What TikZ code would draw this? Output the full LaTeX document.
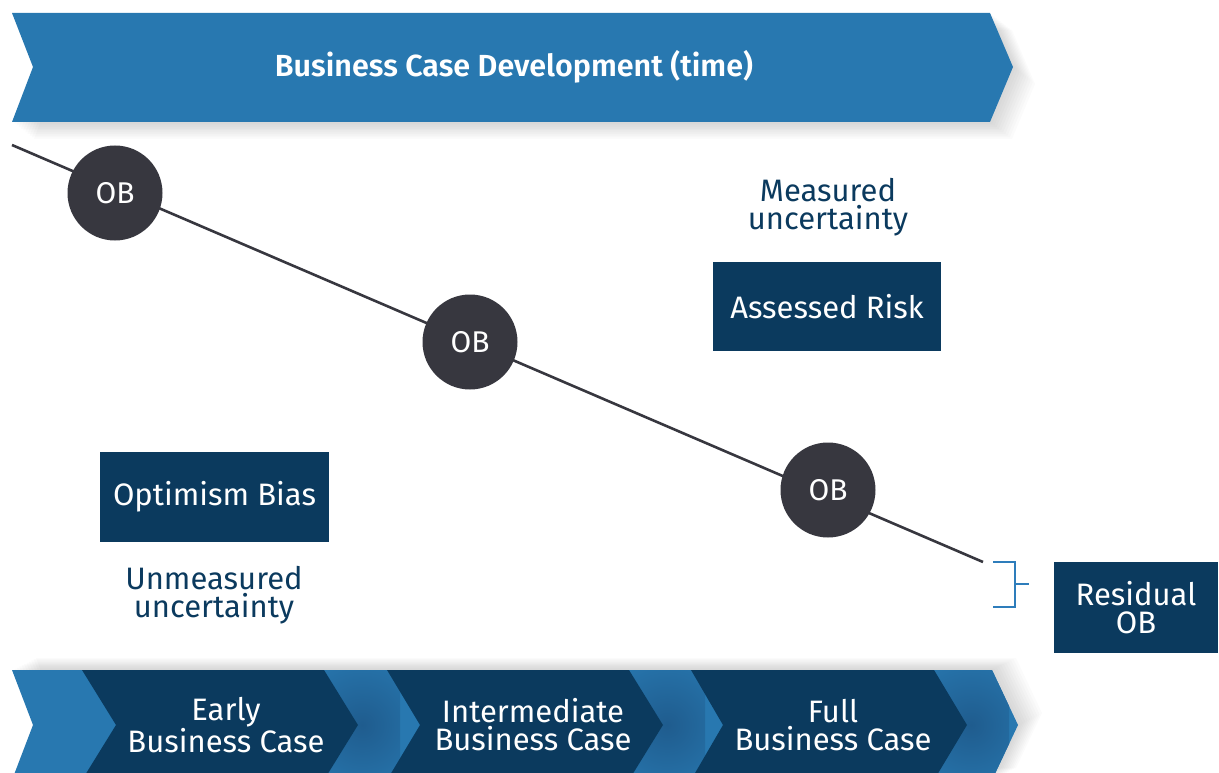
\documentclass[tikz,border=0pt]{standalone}
\usepackage{fontspec}
\setmainfont{Fira Sans}
\IfFontExistsTF{Fira Sans SemiBold}{\newfontfamily\titlefont{Fira Sans SemiBold}}{\newcommand\titlefont{\bfseries}}
\definecolor{lblue}{HTML}{2878B0}
\definecolor{navy}{HTML}{0B3A5E}
\definecolor{circ}{HTML}{37373F}
\definecolor{brk}{HTML}{2E7DBB}
\definecolor{dblue}{HTML}{1F5C8E}
\begin{document}
\begin{tikzpicture}[x=1pt,y=-1pt,
  maintxt/.style={font=\fontsize{31}{28}\selectfont},
  titletxt/.style={text=white,font=\titlefont\fontsize{30.5}{28}\selectfont},
  chtxt/.style={text=white,align=center,maintxt},
  obc/.style={circle,fill=circ,minimum size=95pt,inner sep=0pt,text=white,font=\fontsize{30}{28}\selectfont},
  navybox/.style={fill=navy,text=white,inner sep=0pt,align=center,maintxt},
  lbl/.style={text=navy,align=center,maintxt},
  obline/.style={draw=circ,line width=2.6pt},
  bracket/.style={draw=brk,line width=2.8pt},
  shadowfill/.style={fill=black,opacity=0.014}]
\useasboundingbox (0,0) rectangle (1219,773);
% top banner shadow
\foreach \k in {1,...,10}{
  \fill[shadowfill,shift={(\k*2.2,\k*1.7)}] (12,13) -- (990,13) -- (1013,67) -- (990,122) -- (12,122) -- (33,67) -- cycle;
}
\fill[lblue] (12,13) -- (990,13) -- (1013,67) -- (990,122) -- (12,122) -- (33,67) -- cycle;
\node[titletxt] (title) at (514,67) {Business Case Development (time)};
% bottom arrow shadow
\foreach \k in {1,...,10}{
  \fill[shadowfill,shift={(\k*2.4,-\k*1.2)}] (12,670) -- (992,670) -- (1018,725) -- (992,780) -- (12,780) -- (33,725) -- cycle;
}
\fill[lblue] (12,670) -- (992,670) -- (1018,725) -- (992,780) -- (12,780) -- (33,725) -- cycle;
% soft shading right of chevron tips
\begin{scope}
  \clip (12,670) -- (992,670) -- (1018,725) -- (992,780) -- (12,780) -- (33,725) -- cycle;
  \foreach \a in {0,305,609}{
    \begin{scope}[shift={(\a,0)}]
      \clip (324,670) -- (358,725) -- (324,780) -- (400,780) -- (400,670) -- cycle;
      \shade[inner color=dblue,outer color=lblue] (362,725) circle[radius=80];
    \end{scope}
  }
\end{scope}
% dark chevrons
\fill[navy] (82,670) -- (324,670) -- (358,725) -- (324,780) -- (82,780) -- (116,725) -- cycle;
\fill[navy] (387,670) -- (629,670) -- (663,725) -- (629,780) -- (387,780) -- (420,725) -- cycle;
\fill[navy] (691,670) -- (934,670) -- (967,725) -- (934,780) -- (691,780) -- (723,725) -- cycle;
\node[chtxt] (c1) at (226,725) {Early\\Business Case};
\node[chtxt] (c2) at (533,725) {Intermediate\\Business Case};
\node[chtxt] (c3) at (833,725) {Full\\Business Case};
% OB line
\coordinate (ls) at (12,145);
\coordinate (le) at (983,562);
\draw[obline] (ls) -- (le);
\node[obc] (ob1) at (115,193) {OB};
\node[obc] (ob2) at (470,342) {OB};
\node[obc] (ob3) at (828,490) {OB};
% boxes
\node[navybox,minimum width=228pt,minimum height=89pt] (ar) at (827,306.5) {Assessed Risk};
\node[navybox,minimum width=229pt,minimum height=90pt] (opb) at (214.5,497) {Optimism Bias};
\node[navybox,minimum width=164pt,minimum height=91pt] (res) at (1136,607.5) {Residual\\OB};
\node[lbl] (mu) at (828,207) {Measured\\uncertainty};
\node[lbl] (uu) at (214,595) {Unmeasured\\uncertainty};
% bracket
\coordinate (bt) at (993,562);
\coordinate (btc) at (1015,562);
\coordinate (bbc) at (1015,607);
\coordinate (bb) at (993,607);
\coordinate (bmc) at (1015,584);
\coordinate (bm) at (1029,584);
\draw[bracket] (bt) -- (btc) -- (bbc) -- (bb);
\draw[bracket] (bmc) -- (bm);
\end{tikzpicture}
\end{document}
